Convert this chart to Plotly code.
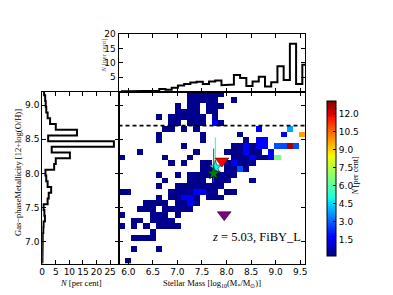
import numpy as np
import plotly.graph_objects as go

# ---------------- data ----------------
mass_range = [5.8, 9.6]
metal_range = [6.68, 9.2]
n_bins = 30

# 2D histogram, one string per metallicity row (top row = highest metallicity),
# one character per stellar-mass bin; '.' = empty
grid_rows = [
    "...........nnnnnn.............",
    "...........nnnnn..n...........",
    ".........n.nn.nnn.............",
    ".........nnnn.nn..............",
    "......n.nnnnnn.n..............",
    "........nn.nnn.bn.............",
    ".......nn.n.n.........b....l..",
    "......n......n.....n......b..o",
    "......n......n......n.bb......",
    "..........n.......nnbnbb.BBrB.",
    "...n........n....nnnbnn.b.....",
    "n......n...n......nnnbnnbg....",
    "........n.n..nn..nbnnn........",
    ".............nnn.nnBn.........",
    "......n..n.nnnnnnnn...........",
    ".......n...nnn.nnn...n........",
    "......n..nnnnnnnn.............",
    "nn......nnnnbbnn.nn...........",
    "......n.nnbbn.nnn.............",
    "....nnnn.nnbn.................",
    "...nnn.nnnnn..................",
    "n....nnn.n....................",
    "..nn.nnnn.....................",
    "n.n.n.nnnn....................",
    ".....n........................",
    "..nnnn........................",
    "..............................",
    "..n...n.......................",
    "..............................",
    ".n............................",
]
level_percent = {"n": 0.3, "b": 1.6, "B": 2.8, "l": 3.9, "g": 6.6, "o": 9.7, "r": 12.7}

# top marginal histogram of stellar mass [per cent]
mass_hist_first_edge = 5.870
mass_hist_values = [0.1, 0.15, 0.3, 0.3, 0.3, 0.3, 0.9, 0.6, 1.3, 2.1,
                    2.6, 3.1, 3.4, 2.6, 3.5, 3.8, 2.2, 2.4, 5.7, 4.7,
                    1.9, 3.5, 5.1, 1.7, 3.2, 8.8, 4.0, 16.6, 2.6, 9.3]

# left marginal histogram of metallicity [per cent], listed top -> bottom
metal_hist_top_edge = 9.229
metal_hist_values = [0.7, 1.1, 1.3, 1.5, 2.0, 2.9, 5.0, 12.8, 2.2, 26.4,
                     3.5, 10.2, 5.0, 4.4, 1.2, 1.5, 2.0, 3.3, 2.4, 2.0,
                     0.5, 0.8, 1.0, 0.5, 0.4, 0.2, 0.2, 0.1, 0.1, 0.1, 0.05]

solar_metallicity = 8.7

obs_red = dict(mass=7.907, metal=8.181)
obs_purple = dict(mass=7.953, metal=7.395)
obs_cyan = dict(mass=7.772, metal=8.09, up=0.437, down=0.072)
obs_green = dict(mass=7.738, metal=8.0, up=0.364, down=0.126)

cbar_ticks = [1.5, 3.0, 4.5, 6.0, 7.5, 9.0, 10.5, 12.0]
cmin, cmax = 0.165, 13.12

# ---------------- build ----------------
dx = (mass_range[1] - mass_range[0]) / n_bins
dy = (metal_range[1] - metal_range[0]) / n_bins
x_centers = mass_range[0] + dx * (np.arange(n_bins) + 0.5)
y_centers = metal_range[0] + dy * (np.arange(n_bins) + 0.5)
z = []
for row in reversed(grid_rows):
    z.append([level_percent[c] if c != "." else None for c in row])

jet = [
    [0.0, "rgb(0,0,128)"], [0.11, "rgb(0,0,255)"], [0.125, "rgb(0,0,255)"],
    [0.34, "rgb(0,219,255)"], [0.35, "rgb(0,230,247)"], [0.375, "rgb(21,255,226)"],
    [0.64, "rgb(239,255,8)"], [0.65, "rgb(247,245,0)"], [0.66, "rgb(255,236,0)"],
    [0.89, "rgb(255,19,0)"], [0.91, "rgb(232,0,0)"], [1.0, "rgb(128,0,0)"],
]

W, H = 393, 295
def px(xp):
    return xp / W
def py(yp):
    return 1 - yp / H

main_x = [px(117), px(306)]
main_y = [py(263), py(88)]
top_y = [py(88), py(29.5)]
left_x = [px(39.7), px(117)]

fig = go.Figure()

fig.add_trace(go.Heatmap(
    x=x_centers, y=y_centers, z=z, colorscale=jet, zmin=cmin, zmax=cmax,
    xaxis="x", yaxis="y", hoverongaps=False,
    colorbar=dict(x=px(318), xanchor="left", thickness=9, thicknessmode="pixels",
                  len=(265 - 87.3) / H, lenmode="fraction", y=py(265), yanchor="bottom",
                  outlinewidth=1, outlinecolor="black", tickvals=cbar_ticks,
                  ticktext=[f"{t:.1f}" for t in cbar_ticks], ticks="inside", ticklen=3,
                  tickcolor="black", tickfont=dict(family="DejaVu Sans", size=9, color="black")),
))

# solar metallicity dashed line
fig.add_trace(go.Scatter(x=mass_range, y=[solar_metallicity] * 2, mode="lines",
                         line=dict(color="black", width=1.6, dash="4px,3px"),
                         xaxis="x", yaxis="y", showlegend=False))

# observational points
fig.add_trace(go.Scatter(x=[obs_cyan["mass"]], y=[obs_cyan["metal"]], mode="markers",
                         marker=dict(symbol="star", size=10, color="cyan", line=dict(width=0.5, color="black")),
                         error_y=dict(type="data", symmetric=False, array=[obs_cyan["up"]],
                                      arrayminus=[obs_cyan["down"]], color="cyan", thickness=1, width=0),
                         xaxis="x", yaxis="y", showlegend=False))
fig.add_trace(go.Scatter(x=[obs_green["mass"]], y=[obs_green["metal"]], mode="markers",
                         marker=dict(symbol="star", size=10, color="green", line=dict(width=0.5, color="black")),
                         error_y=dict(type="data", symmetric=False, array=[obs_green["up"]],
                                      arrayminus=[obs_green["down"]], color="green", thickness=1, width=0),
                         xaxis="x", yaxis="y", showlegend=False))
fig.add_trace(go.Scatter(x=[obs_red["mass"]], y=[obs_red["metal"]], mode="markers",
                         marker=dict(symbol="triangle-down", size=12, color="red", line=dict(width=0.5, color="black")),
                         xaxis="x", yaxis="y", showlegend=False))
fig.add_trace(go.Scatter(x=[obs_purple["mass"]], y=[obs_purple["metal"]], mode="markers",
                         marker=dict(symbol="triangle-down", size=12, color="purple", line=dict(width=0.5, color="black")),
                         xaxis="x", yaxis="y", showlegend=False))

# top histogram (step outline)
mv = np.array(mass_hist_values)
me = mass_hist_first_edge + dx * np.arange(len(mv) + 1)
sx = np.concatenate([[me[0]], np.repeat(me, 2)[1:-1], [me[-1]]])
sy = np.concatenate([[0], np.repeat(mv, 2), [0]])
fig.add_trace(go.Scatter(x=sx, y=sy, mode="lines", line=dict(color="black", width=2),
                         xaxis="x2", yaxis="y2", showlegend=False))

# left histogram (horizontal step outline)
zv = np.array(metal_hist_values)
ze = metal_hist_top_edge - dy * np.arange(len(zv) + 1)
lx = np.concatenate([[0], np.repeat(zv, 2), [0]])
ly = np.concatenate([[ze[0]], np.repeat(ze, 2)[1:-1], [ze[-1]]])
fig.add_trace(go.Scatter(x=lx, y=ly, mode="lines", line=dict(color="black", width=2),
                         xaxis="x3", yaxis="y3", showlegend=False))

tickfont = dict(family="DejaVu Sans", size=9, color="black")
common = dict(showline=True, linecolor="black", linewidth=1, mirror="ticks", ticks="inside",
              ticklen=4, tickcolor="black", showgrid=False, zeroline=False, tickfont=tickfont,
              tickangle=0)

fig.update_layout(
    width=W, height=H, margin=dict(l=0, r=0, t=0, b=0),
    paper_bgcolor="white", plot_bgcolor="white",
    xaxis=dict(domain=main_x, range=mass_range, anchor="y", tickvals=[6.0, 6.5, 7.0, 7.5, 8.0, 8.5, 9.0, 9.5],
               ticktext=["6.0", "6.5", "7.0", "7.5", "8.0", "8.5", "9.0", "9.5"], **common),
    yaxis=dict(domain=main_y, range=metal_range, anchor="x", tickvals=[7.0, 7.5, 8.0, 8.5, 9.0],
               showticklabels=False, **common),
    xaxis2=dict(domain=main_x, range=mass_range, anchor="y2", tickvals=[6.0, 6.5, 7.0, 7.5, 8.0, 8.5, 9.0, 9.5],
                showticklabels=False, **common),
    yaxis2=dict(domain=top_y, range=[0, 20], anchor="x2", tickvals=[5, 10, 15, 20],
                ticktext=["5", "10", "15", "20"], **common),
    xaxis3=dict(domain=left_x, range=[0, 28.1], anchor="y3", tickvals=[0, 5, 10, 15, 20, 25], **common),
    yaxis3=dict(domain=main_y, range=metal_range, anchor="x3", tickvals=[7.0, 7.5, 8.0, 8.5, 9.0],
                ticktext=["7.0", "7.5", "8.0", "8.5", "9.0"], **common),
)

serif = "Liberation Serif"
ann = [
    dict(text="<i>z</i> = 5.03, FiBY_L", x=px(304), y=py(236), xanchor="right", yanchor="middle",
         font=dict(family=serif, size=12.5, color="black")),
    dict(text="Stellar Mass [log<sub>10</sub>(M<sub>*</sub>/M<sub>⊙</sub>)]", x=px(211.5), y=py(283),
         xanchor="center", yanchor="middle", font=dict(family=serif, size=8.5, color="black")),
    dict(text="<i>N</i> [per cent]", x=px(79), y=py(283), xanchor="center", yanchor="middle",
         font=dict(family=serif, size=8.5, color="black")),
    dict(text="Gas−phaseMetallicity [12+log(O/H)]", x=px(15), y=py(170), xanchor="center",
         yanchor="middle", textangle=-90, font=dict(family=serif, size=8.5, color="black")),
    dict(text="<i>N</i> [per cent]", x=px(102), y=py(52), xanchor="center", yanchor="middle",
         textangle=-90, font=dict(family=serif, size=7, color="#555555")),
    dict(text="<i>N</i> [per cent]", x=px(357), y=py(173), xanchor="center", yanchor="middle",
         textangle=-90, font=dict(family=serif, size=8, color="black")),
]
for a in ann:
    a.update(xref="paper", yref="paper", showarrow=False)
fig.update_layout(annotations=ann)

fig.write_html("out.html", config={"displayModeBar": False},
               post_script="document.body.style.margin='0px';")
